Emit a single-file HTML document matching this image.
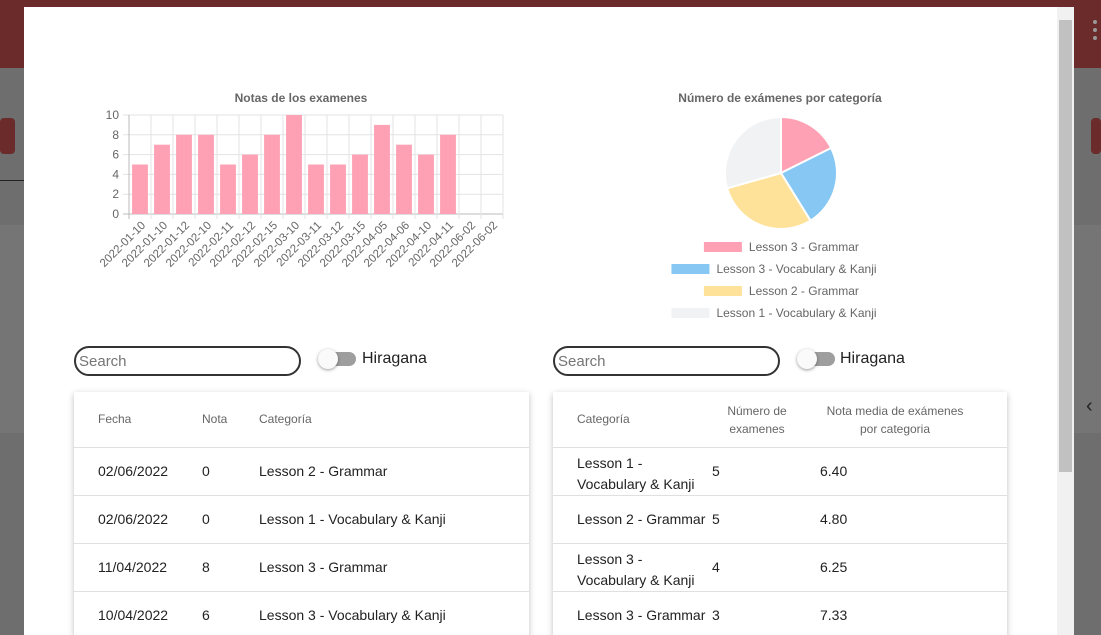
<!DOCTYPE html>
<html><head><meta charset="utf-8"><style>
*{box-sizing:border-box;margin:0;padding:0}
html,body{width:1101px;height:635px;overflow:hidden}
body{position:relative;font-family:"Liberation Sans",sans-serif;background:#6e6e6e}
.abs{position:absolute}
.card{position:absolute;background:#fff;box-shadow:0 2px 6px rgba(0,0,0,.25);overflow:hidden}
.hd{position:absolute;font-size:12px;color:#666}
.cell{position:absolute;font-size:14px;color:#222}
.line{position:absolute;left:0;right:0;height:1px;background:#e0e0e0}
.search{position:absolute;width:227px;height:30px;border:2px solid #333;border-radius:15px;font-size:15px;color:#777;padding:5px 3px;font-family:"Liberation Sans",sans-serif}
.tog{position:absolute;width:36px;height:14px;border-radius:7px;background:#9e9e9e}
.tog i{position:absolute;left:-2px;top:-3px;width:20px;height:20px;border-radius:50%;background:#fafafa;box-shadow:0 1px 3px rgba(0,0,0,.4)}
.tl{position:absolute;font-size:16px;color:#222}
</style></head><body>
<div class="abs" style="left:0;top:0;width:1101px;height:68px;background:#6b2b2b"></div>
<div class="abs" style="left:1093px;top:20px;width:5px;height:20px;border-left:4px dotted #999"></div>
<div class="abs" style="left:0;top:118px;width:15px;height:36px;background:#6b2b2b;border-radius:4px"></div>
<div class="abs" style="left:1091px;top:118px;width:10px;height:36px;background:#6b2b2b;border-radius:4px"></div>
<div class="abs" style="left:0;top:180px;width:24px;height:1px;background:#222"></div>
<div class="abs" style="left:0;top:225px;width:24px;height:208px;background:#757575"></div>
<div class="abs" style="left:1074px;top:225px;width:27px;height:208px;background:#757575"></div>
<div class="abs" style="left:1086px;top:395px;color:#222;font-size:20px">‹</div>

<div class="abs" style="left:24px;top:7px;width:1050px;height:628px;background:#fff"></div>
<div class="abs" style="left:1057px;top:7px;width:17px;height:628px;background:#f1f1f1"></div>
<div class="abs" style="left:1059px;top:20px;width:13px;height:452px;background:#c1c1c1"></div>

<svg class="abs" style="left:0;top:0" width="1101" height="340">
<g id="bar"></g>
<g id="pie"></g>
</svg>

<input class="search" style="left:74px;top:346px" placeholder="Search">
<div class="tog" style="left:320px;top:352px"><i></i></div>
<div class="tl" style="left:362px;top:350px">Hiragana</div>
<input class="search" style="left:553px;top:346px" placeholder="Search">
<div class="tog" style="left:799px;top:352px"><i></i></div>
<div class="tl" style="left:840px;top:350px">Hiragana</div>

<div class="card" style="left:74px;top:392px;width:455px;height:250px">
<div class="hd" style="left:24px;top:20px">Fecha</div>
<div class="hd" style="left:128px;top:20px">Nota</div>
<div class="hd" style="left:185px;top:20px">Categoría</div>
<div class="line" style="top:55px"></div>
<div class="cell" style="left:24px;top:71px">02/06/2022</div><div class="cell" style="left:128px;top:71px">0</div><div class="cell" style="left:185px;top:71px">Lesson 2 - Grammar</div>
<div class="line" style="top:103px"></div>
<div class="cell" style="left:24px;top:119px">02/06/2022</div><div class="cell" style="left:128px;top:119px">0</div><div class="cell" style="left:185px;top:119px">Lesson 1 - Vocabulary &amp; Kanji</div>
<div class="line" style="top:151px"></div>
<div class="cell" style="left:24px;top:167px">11/04/2022</div><div class="cell" style="left:128px;top:167px">8</div><div class="cell" style="left:185px;top:167px">Lesson 3 - Grammar</div>
<div class="line" style="top:199px"></div>
<div class="cell" style="left:24px;top:215px">10/04/2022</div><div class="cell" style="left:128px;top:215px">6</div><div class="cell" style="left:185px;top:215px">Lesson 3 - Vocabulary &amp; Kanji</div>
</div>

<div class="card" style="left:553px;top:392px;width:454px;height:250px">
<div class="hd" style="left:24px;top:20px">Categoría</div>
<div class="hd" style="left:168px;top:10px;width:72px;text-align:center;line-height:18px">Número de examenes</div>
<div class="hd" style="left:267px;top:10px;width:150px;text-align:center;line-height:18px">Nota media de exámenes por categoria</div>
<div class="line" style="top:55px"></div>
<div class="cell" style="left:24px;top:61px;line-height:21px">Lesson 1 -<br>Vocabulary &amp; Kanji</div><div class="cell" style="left:159px;top:71px">5</div><div class="cell" style="left:267px;top:71px">6.40</div>
<div class="line" style="top:103px"></div>
<div class="cell" style="left:24px;top:119px">Lesson 2 - Grammar</div><div class="cell" style="left:159px;top:119px">5</div><div class="cell" style="left:267px;top:119px">4.80</div>
<div class="line" style="top:151px"></div>
<div class="cell" style="left:24px;top:157px;line-height:21px">Lesson 3 -<br>Vocabulary &amp; Kanji</div><div class="cell" style="left:159px;top:167px">4</div><div class="cell" style="left:267px;top:167px">6.25</div>
<div class="line" style="top:199px"></div>
<div class="cell" style="left:24px;top:215px">Lesson 3 - Grammar</div><div class="cell" style="left:159px;top:215px">3</div><div class="cell" style="left:267px;top:215px">7.33</div>
</div>

<script>
const dates=["2022-01-10","2022-01-10","2022-01-12","2022-02-10","2022-02-11","2022-02-12","2022-02-15","2022-03-10","2022-03-11","2022-03-12","2022-03-15","2022-04-05","2022-04-06","2022-04-10","2022-04-11","2022-06-02","2022-06-02"];
const notas=[5,7,8,8,5,6,8,10,5,5,6,9,7,6,8,0,0];
const yTicks=[0,2,4,6,8,10];
const pieLabels=["Lesson 3 - Grammar","Lesson 3 - Vocabulary & Kanji","Lesson 2 - Grammar","Lesson 1 - Vocabulary & Kanji"];
const pieValues=[3,4,5,5];
const pieColors=["#ffa1b5","#86c7f3","#ffe29a","#f1f2f4"];

const NS="http://www.w3.org/2000/svg";
function mk(parent,tag,attrs,text){const e=document.createElementNS(NS,tag);for(const k in attrs)e.setAttribute(k,attrs[k]);if(text!==undefined)e.textContent=text;parent.appendChild(e);return e;}
const bar=document.getElementById('bar');
const X0=129,X1=503,Y0=214,Y1=115,ymax=10;
const step=(X1-X0)/dates.length;
const ys=v=>Y0-(v/ymax)*(Y0-Y1);
const t=mk(bar,'text',{x:301,y:102,'text-anchor':'middle','font-size':12,'font-weight':'bold',fill:'#666'},"Notas de los examenes");


yTicks.forEach(v=>{
  const y=ys(v);
  const l=mk(bar,'line',{x1:X0-6,x2:X1,y1:y,y2:y,stroke:v===0?'#bbb':'#e3e3e3'});
  
  
  const tx=mk(bar,'text',{x:X0-10,y:y+4,'text-anchor':'end','font-size':12,fill:'#666'},v);
  
  
});
for(let i=0;i<=dates.length;i++){
  const x=X0+i*step;
  const l=mk(bar,'line',{x1:x,x2:x,y1:Y1,y2:Y0+5,stroke:i===0?'#bbb':'#e3e3e3'});
  
  
}
dates.forEach((d,i)=>{
  const cx=X0+(i+0.5)*step, w=step*0.72;
  const r=mk(bar,'rect',{x:cx-w/2,y:ys(notas[i]),width:w,height:Y0-ys(notas[i]),fill:'#ffa1b5'});
  
  
  const tx=mk(bar,'text',{x:cx+6,y:Y0+12,'text-anchor':'end','font-size':11.5,fill:'#666',transform:`rotate(-45 ${cx+6} ${Y0+12})`},d);
  
  
});
const pie=document.getElementById('pie');
const pt=mk(pie,'text',{x:780,y:102,'text-anchor':'middle','font-size':12,'font-weight':'bold',fill:'#666'},"Número de exámenes por categoría");


const cx=781,cy=173,R=56;
const tot=pieValues.reduce((a,b)=>a+b,0);
let a=-Math.PI/2;
pieValues.forEach((v,i)=>{
  const a2=a+v/tot*2*Math.PI;
  const p=`M${cx},${cy}L${cx+R*Math.cos(a)},${cy+R*Math.sin(a)}A${R},${R} 0 ${a2-a>Math.PI?1:0} 1 ${cx+R*Math.cos(a2)},${cy+R*Math.sin(a2)}Z`;
  const s=mk(pie,'path',{d:p,fill:pieColors[i],stroke:'#fff','stroke-width':2});
  
  
  a=a2;
  const ly=247+i*22;
  const tw=pieLabels[i].length*5.9;
  const lx=780-(40+6+tw)/2;
  const b=mk(pie,'rect',{x:lx,y:ly-5,width:38,height:10,fill:pieColors[i]});
  
  
  const lt=mk(pie,'text',{x:lx+45,y:ly+4,'font-size':12,fill:'#666'},pieLabels[i]);
  
  
});
</script>
</body></html>
